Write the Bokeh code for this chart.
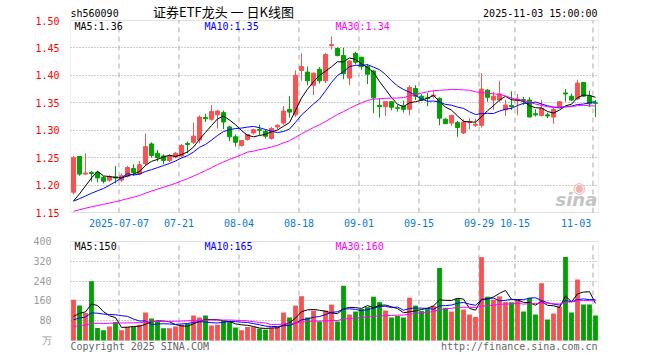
import pandas as pd
from bokeh.plotting import figure
from bokeh.models import Range1d, FixedTicker, Label, ColumnDataSource, PrintfTickFormatter, BoxAnnotation
from bokeh.layouts import column
from bokeh.embed import file_html
from bokeh.resources import INLINE

symbol = "sh560090"
chart_title = "证券ETF龙头 一 日K线图"
timestamp = "2025-11-03 15:00:00"

opens = [1.187,1.252,1.220,1.223,1.223,1.214,1.209,1.215,1.209,1.216,
         1.230,1.220,1.239,1.275,1.258,1.253,1.245,1.251,1.253,1.276,
         1.278,1.282,1.323,1.320,1.328,1.332,1.306,1.288,1.272,1.283,
         1.295,1.301,1.298,1.285,1.306,1.313,1.338,1.328,1.409,1.406,
         1.382,1.411,1.390,1.454,1.449,1.436,1.395,1.440,1.433,1.416,
         1.408,1.345,1.343,1.352,1.341,1.344,1.338,1.376,1.362,1.359,
         1.362,1.358,1.320,1.313,1.314,1.295,1.314,1.309,1.309,1.373,
         1.355,1.355,1.337,1.345,1.354,1.356,1.355,1.330,1.327,1.328,
         1.324,1.342,1.368,1.362,1.357,1.387,1.362,1.350]
highs = [1.253,1.253,1.258,1.226,1.226,1.216,1.218,1.235,1.221,1.235,
         1.238,1.244,1.294,1.278,1.264,1.256,1.256,1.260,1.275,1.279,
         1.314,1.327,1.330,1.346,1.337,1.336,1.308,1.292,1.282,1.293,
         1.303,1.310,1.301,1.306,1.311,1.344,1.362,1.409,1.440,1.416,
         1.405,1.415,1.441,1.471,1.451,1.450,1.428,1.443,1.434,1.420,
         1.410,1.358,1.352,1.352,1.346,1.354,1.382,1.382,1.366,1.368,
         1.373,1.360,1.322,1.328,1.317,1.320,1.322,1.321,1.404,1.375,
         1.370,1.390,1.355,1.371,1.366,1.361,1.360,1.338,1.355,1.332,
         1.341,1.352,1.375,1.367,1.392,1.388,1.372,1.355]
lows = [1.183,1.217,1.218,1.206,1.205,1.203,1.206,1.203,1.206,1.214,
        1.217,1.218,1.235,1.250,1.243,1.238,1.242,1.249,1.250,1.258,
        1.275,1.276,1.315,1.317,1.303,1.302,1.280,1.270,1.270,1.281,
        1.292,1.291,1.285,1.283,1.302,1.310,1.323,1.324,1.390,1.382,
        1.364,1.385,1.386,1.447,1.435,1.393,1.382,1.420,1.410,1.384,
        1.331,1.323,1.326,1.336,1.334,1.332,1.327,1.355,1.353,1.344,
        1.358,1.309,1.311,1.308,1.288,1.293,1.302,1.306,1.305,1.352,
        1.337,1.352,1.326,1.337,1.327,1.346,1.324,1.325,1.325,1.322,
        1.312,1.342,1.352,1.353,1.355,1.361,1.342,1.324]
closes = [1.250,1.220,1.222,1.221,1.213,1.207,1.215,1.213,1.217,1.232,
          1.223,1.237,1.270,1.254,1.250,1.245,1.253,1.258,1.272,1.274,
          1.289,1.324,1.321,1.334,1.335,1.315,1.288,1.278,1.281,1.292,
          1.301,1.300,1.289,1.303,1.309,1.335,1.333,1.400,1.416,1.390,
          1.404,1.390,1.438,1.456,1.436,1.403,1.426,1.424,1.416,1.402,
          1.359,1.343,1.352,1.342,1.340,1.338,1.378,1.362,1.355,1.358,
          1.364,1.322,1.312,1.327,1.305,1.315,1.316,1.311,1.375,1.360,
          1.362,1.366,1.346,1.343,1.357,1.353,1.324,1.328,1.340,1.326,
          1.338,1.352,1.366,1.355,1.386,1.362,1.348,1.349]
volumes = [165,141,111,239,51,41,57,75,41,55,
           55,64,113,89,77,49,49,57,64,68,
           101,93,101,61,64,79,79,53,41,55,
           55,48,44,52,55,113,93,141,179,93,
           121,77,121,145,77,221,105,117,128,135,
           177,155,121,93,99,93,173,141,119,127,
           140,293,132,117,170,125,105,95,337,177,
           165,178,155,155,165,117,172,105,231,85,
           109,137,337,113,246,145,145,101]
# sessions before the first visible candle (they only feed the moving averages)
prior_closes = [1.140,1.138,1.142,1.145,1.143,1.140,1.139,1.141,1.144,1.146,
                1.143,1.141,1.140,1.142,1.145,1.147,1.146,1.144,1.148,1.150,
                1.172,1.175,1.170,1.168,1.165,1.155,1.150,1.148,1.152]
prior_volumes = [40,45,38,42,47,44,41,39,46,43,40,44,48,42,45,41,43,46,44,47,
                 68,72,70,66,74,78,82,80,81]

tick_idx = [8, 18, 28, 38, 48, 58, 68, 74, 87]
tick_labels = ["2025-07-07", "07-21", "08-04", "08-18", "09-01", "09-15", "09-29", "10-15", "11-03"]
price_ticks = [1.15, 1.20, 1.25, 1.30, 1.35, 1.40, 1.45, 1.50]
vol_ticks = [0, 80, 160, 240, 320, 400]
vol_unit = "万"

RED = "#f65353"
GREEN = "#00a100"
MONO = "DejaVu Sans Mono"
n = len(closes)
xs = list(range(n))

allc = pd.Series(prior_closes + closes)
allv = pd.Series(prior_volumes + volumes)
pma = {k: allc.rolling(k).mean().iloc[-n:].tolist() for k in (5, 10, 30)}
vma = {k: allv.rolling(k).mean().iloc[-n:].tolist() for k in (5, 10, 30)}
ma_colors = {5: "black", 10: "#0000ff", 30: "#ff00ff"}

colors = [RED if c >= o else GREEN for o, c in zip(opens, closes)]
src = ColumnDataSource(dict(x=xs, open=opens, high=highs, low=lows, close=closes,
                            top=[max(o, c) for o, c in zip(opens, closes)],
                            bottom=[min(o, c) for o, c in zip(opens, closes)],
                            vol=volumes, color=colors))

W = 652
XL, XR = -0.5, n - 0.5
gx = [t - 0.42 for t in tick_idx]

def lab(p, x, y, text, color="black", size="10px", font=MONO, align="left", style="normal"):
    p.add_layout(Label(x=x, y=y, text=text, text_color=color, text_font=font,
                       text_font_size=size, text_align=align, text_baseline="middle",
                       text_font_style=style))

def style_yaxis(p, color, standoff):
    p.yaxis.axis_line_color = None
    p.yaxis.major_tick_line_color = None
    p.yaxis.minor_tick_line_color = None
    p.yaxis.major_label_standoff = standoff
    p.yaxis.major_label_text_color = color
    p.yaxis.major_label_text_font = MONO
    p.yaxis.major_label_text_font_size = "10px"

# ---------------- price panel (canvas rows 0..230, box rows 20..212) ----------------
P_LO, P_HI = price_ticks[0], price_ticks[-1]
kp = (P_HI - P_LO) / 192.0          # price per pixel
p1 = figure(width=W, height=230, output_backend="svg", toolbar_location=None,
            x_range=Range1d(XL, XR), y_range=Range1d(P_LO - 18 * kp, P_HI + 20 * kp),
            x_axis_location=None, min_border_left=70, min_border_right=W - 598,
            min_border_top=0, min_border_bottom=0, outline_line_color=None,
            background_fill_color="white", border_fill_color="white")
p1.yaxis.ticker = FixedTicker(ticks=price_ticks)
p1.yaxis.formatter = PrintfTickFormatter(format="%.2f")
style_yaxis(p1, "#ff0000", 5)
p1.ygrid.ticker = FixedTicker(ticks=price_ticks[1:-1])
p1.ygrid.grid_line_color = "#999999"
p1.ygrid.grid_line_dash = "1 2"
p1.xgrid.visible = False
p1.segment(x0=gx, y0=P_LO, x1=gx, y1=P_HI, line_color="#aaaaaa", line_dash="5 4", line_width=1)
p1.add_layout(BoxAnnotation(left=XL, right=XR, bottom=P_LO, top=P_HI, fill_alpha=0,
                            line_color="#999999", line_width=1))

# watermark
lab(p1, 84.3, P_HI - 167 * kp, "◉", color="#f5b0b0", size="15px", font="DejaVu Sans", align="center")
lab(p1, 87.3, P_HI - 179 * kp, "sina", color="#c4c4c4", size="18px", font="DejaVu Sans",
    align="right", style="bold italic")

p1.segment(x0="x", y0="high", x1="x", y1="low", color="color", line_width=1, source=src)
p1.vbar(x="x", top="top", bottom="bottom", width=0.68, fill_color="color",
        line_color="color", line_width=1, source=src)
for k in (5, 10, 30):
    p1.line(xs, pma[k], color=ma_colors[k], line_width=1)

lab(p1, XL, P_HI + 7 * kp, symbol)
lab(p1, 25.0, P_HI + 9 * kp, chart_title, size="13px", font="Noto Sans CJK SC", align="center")
lab(p1, 87.33, P_HI + 7 * kp, timestamp, align="right")
lab(p1, 0.17, P_HI - 6 * kp, f"MA5:{pma[5][-1]:.2f}", color=ma_colors[5])
lab(p1, 21.83, P_HI - 6 * kp, f"MA10:{pma[10][-1]:.2f}", color=ma_colors[10])
lab(p1, 43.67, P_HI - 6 * kp, f"MA30:{pma[30][-1]:.2f}", color=ma_colors[30])
for j, (t, s) in enumerate(zip(gx, tick_labels)):
    last = j == len(gx) - 1
    lab(p1, t - (0.3 if last else 0), P_LO - 10 * kp, s, color="#0a7ad6",
        align="right" if last else "center")

# ---------------- volume panel (canvas rows 230..355, box rows 241..340) ----------------
V_HI = vol_ticks[-1]
kv = V_HI / 99.0
p2 = figure(width=W, height=125, output_backend="svg", toolbar_location=None,
            x_range=p1.x_range, y_range=Range1d(-15 * kv, V_HI + 11 * kv),
            x_axis_location=None, min_border_left=70, min_border_right=W - 598,
            min_border_top=0, min_border_bottom=0, outline_line_color=None,
            background_fill_color="white", border_fill_color="white")
p2.yaxis.ticker = FixedTicker(ticks=vol_ticks)
p2.yaxis.major_label_overrides = {0: vol_unit}
style_yaxis(p2, "#999999", 13)
p2.ygrid.ticker = FixedTicker(ticks=vol_ticks[1:-1])
p2.ygrid.grid_line_color = "#999999"
p2.ygrid.grid_line_dash = "1 2"
p2.xgrid.visible = False
p2.segment(x0=gx, y0=0, x1=gx, y1=V_HI, line_color="#aaaaaa", line_dash="5 4", line_width=1)
p2.add_layout(BoxAnnotation(left=XL, right=XR, bottom=0, top=V_HI, fill_alpha=0,
                            line_color="#999999", line_width=1))

p2.vbar(x="x", top="vol", bottom=0, width=0.8, fill_color="color", line_color=None, source=src)
for k in (5, 10, 30):
    p2.line(xs, vma[k], color=ma_colors[k], line_width=1)

lab(p2, 0.17, V_HI - 5 * kv, f"MA5:{vma[5][-1]:.0f}", color=ma_colors[5])
lab(p2, 21.83, V_HI - 5 * kv, f"MA10:{vma[10][-1]:.0f}", color=ma_colors[10])
lab(p2, 43.67, V_HI - 5 * kv, f"MA30:{vma[30][-1]:.0f}", color=ma_colors[30])
lab(p2, XL, -6 * kv, "Copyright 2025 SINA.COM", color="#666666")
lab(p2, 87.33, -6 * kv, "http://finance.sina.com.cn", color="#666666", align="right")

layout = column(p1, p2, spacing=0)
open("out.html", "w").write(file_html(layout, INLINE))
